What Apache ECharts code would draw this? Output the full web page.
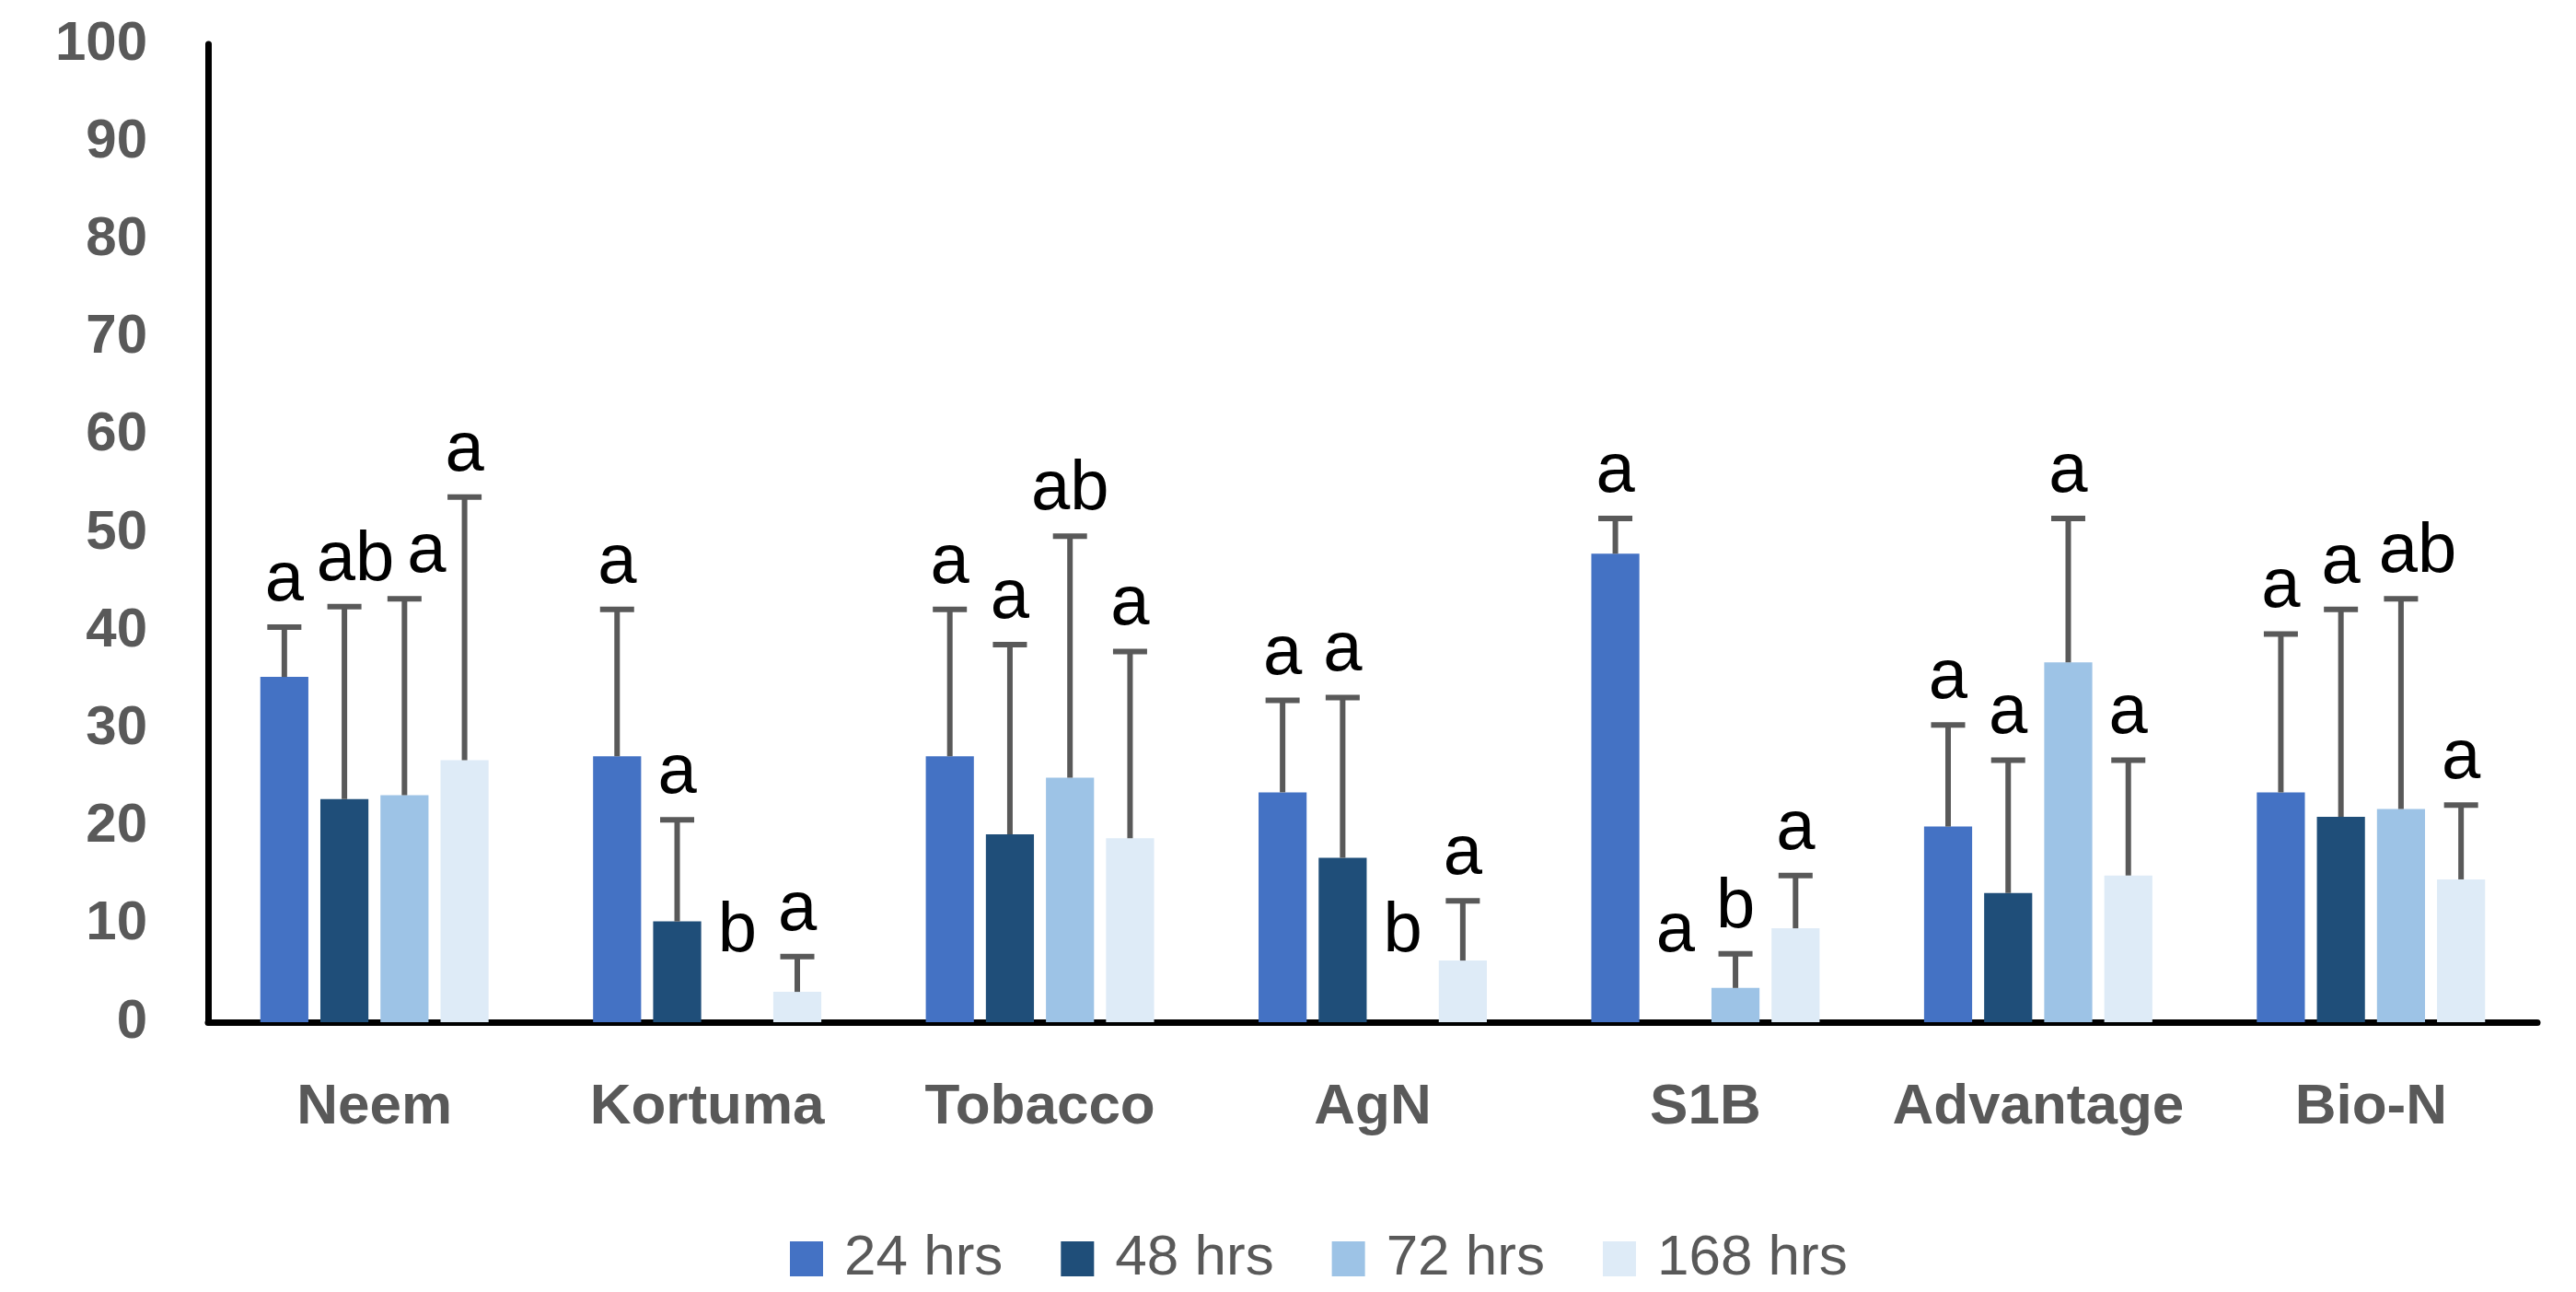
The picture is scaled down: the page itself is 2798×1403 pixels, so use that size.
<!DOCTYPE html>
<html>
<head>
<meta charset="utf-8">
<script src="https://cdn.jsdelivr.net/npm/echarts@6/dist/echarts.min.js"></script>
<style>
html,body{margin:0;padding:0;background:#fff;}
#chart{width:2798px;height:1403px;}
</style>
</head>
<body>
<div id="chart"></div>
<script>
const categories = ['Neem', 'Kortuma', 'Tobacco', 'AgN', 'S1B', 'Advantage', 'Bio-N'];
const seriesNames = ['24 hrs', '48 hrs', '72 hrs', '168 hrs'];

const v24  = [35.3, 27.2, 27.2, 23.5, 47.9, 20.0, 23.5];
const v48  = [22.8, 10.3, 19.2, 16.8, 0,    13.2, 21.0];
const v72  = [23.2, 0,    25.0, 0,    3.5,  36.8, 21.8];
const v168 = [26.8, 3.1,  18.8, 6.3,  9.6,  15.0, 14.6];

const e24  = [5.1,  15.0, 15.0, 9.4,  3.6, 10.4, 16.2];
const e48  = [19.7, 10.4, 19.4, 16.4, 0,   13.6, 21.2];
const e72  = [20.1, 0,    24.7, 0,    3.5, 14.7, 21.5];
const e168 = [26.9, 3.6,  19.1, 6.1,  5.4, 11.8, 7.6];

const l24  = ['a', 'a', 'a', 'a', 'a', 'a', 'a'];
const l48  = ['ab', 'a', 'a', 'a', 'a', 'a', 'a'];
const l72  = ['a', 'b', 'ab', 'b', 'b', 'a', 'ab'];
const l168 = ['a', 'a', 'a', 'a', 'a', 'a', 'a'];

const yTicks = [0, 10, 20, 30, 40, 50, 60, 70, 80, 90, 100];

const colors = ['#4472C4', '#1F4E79', '#9DC3E6', '#DEEBF7'];
const values = [v24, v48, v72, v168];
const errors = [e24, e48, e72, e168];
const letters = [l24, l48, l72, l168];

// layout / style settings
const CAT_GAP = 0.314;
const BAR_GAP = 0.25;
const ZERO_LIFT = 4.5;
const FONT = 'Liberation Sans, Arial, sans-serif';
// small horizontal nudges (px) for crowded letters, keyed "category-series"
const LETTER_NUDGE = {'0-1': 12, '0-2': 24, '6-2': 18};

const errData = [];
for (let s = 0; s < 4; s++) {
  for (let i = 0; i < categories.length; i++) {
    errData.push([i, s, values[s][i], errors[s][i], letters[s][i]]);
  }
}

const chart = echarts.init(document.getElementById('chart'), null, {renderer: 'canvas'});

const barSeries = seriesNames.map((name, s) => ({
  name: name,
  type: 'bar',
  data: values[s],
  itemStyle: {color: colors[s]},
  barGap: (BAR_GAP * 100) + '%',
  barCategoryGap: (CAT_GAP * 100) + '%',
  z: 2
}));

const errSeries = {
  type: 'custom',
  data: errData,
  z: 5,
  silent: true,
  renderItem: function (params, api) {
    const ci = api.value(0), si = api.value(1), v = api.value(2), e = api.value(3);
    const letter = errData[params.dataIndex][4];
    const catW = api.size([1, 0])[0];
    const groupW = catW * (1 - CAT_GAP);
    const w = groupW / (4 + 3 * BAR_GAP);
    const base = api.coord([ci, 0]);
    const cx = base[0] - groupW / 2 + si * w * (1 + BAR_GAP) + w / 2;
    const yVal = api.coord([ci, v])[1];
    const yTop = api.coord([ci, v + e])[1];
    const children = [];
    if (e > 0) {
      children.push({
        type: 'line',
        shape: {x1: cx, y1: yVal, x2: cx, y2: yTop},
        style: {stroke: '#595959', lineWidth: 6}
      });
      children.push({
        type: 'line',
        shape: {x1: cx - 18.5, y1: yTop, x2: cx + 18.5, y2: yTop},
        style: {stroke: '#595959', lineWidth: 6}
      });
    }
    const anchorY = (v + e) > 0 ? yTop : api.coord([ci, ZERO_LIFT])[1];
    const nudge = LETTER_NUDGE[ci + '-' + si] || 0;
    children.push({
      type: 'text',
      style: {
        text: letter,
        x: cx + nudge,
        y: anchorY - 12,
        align: 'center',
        verticalAlign: 'bottom',
        fill: '#000000',
        font: 'normal 76px ' + FONT
      }
    });
    return {type: 'group', children: children};
  }
};

chart.setOption({
  animation: false,
  backgroundColor: '#ffffff',
  grid: {left: 226, right: 42, top: 48, bottom: 293, containLabel: false},
  legend: {
    data: seriesNames,
    left: 853,
    top: 1331,
    itemWidth: 36,
    itemHeight: 38,
    itemGap: 63,
    icon: 'rect',
    textStyle: {
      fontFamily: FONT,
      fontSize: 62,
      color: '#595959',
      padding: [0, 0, 0, 18],
      lineHeight: 62
    }
  },
  xAxis: {
    type: 'category',
    data: categories,
    axisLine: {show: true, lineStyle: {color: '#000000', width: 7}},
    axisTick: {show: false},
    axisLabel: {
      interval: 0,
      margin: 62,
      fontFamily: FONT,
      fontSize: 62,
      fontWeight: 'bold',
      color: '#595959',
      lineHeight: 62
    },
    splitLine: {show: false}
  },
  yAxis: {
    type: 'value',
    min: yTicks[0],
    max: yTicks[yTicks.length - 1],
    interval: yTicks[1] - yTicks[0],
    axisLine: {show: true, lineStyle: {color: '#000000', width: 7}},
    axisTick: {show: false},
    splitLine: {show: false},
    axisLabel: {
      margin: 66,
      fontFamily: FONT,
      fontSize: 60,
      fontWeight: 'bold',
      color: '#595959'
    }
  },
  series: barSeries.concat([errSeries])
});
</script>
</body>
</html>
